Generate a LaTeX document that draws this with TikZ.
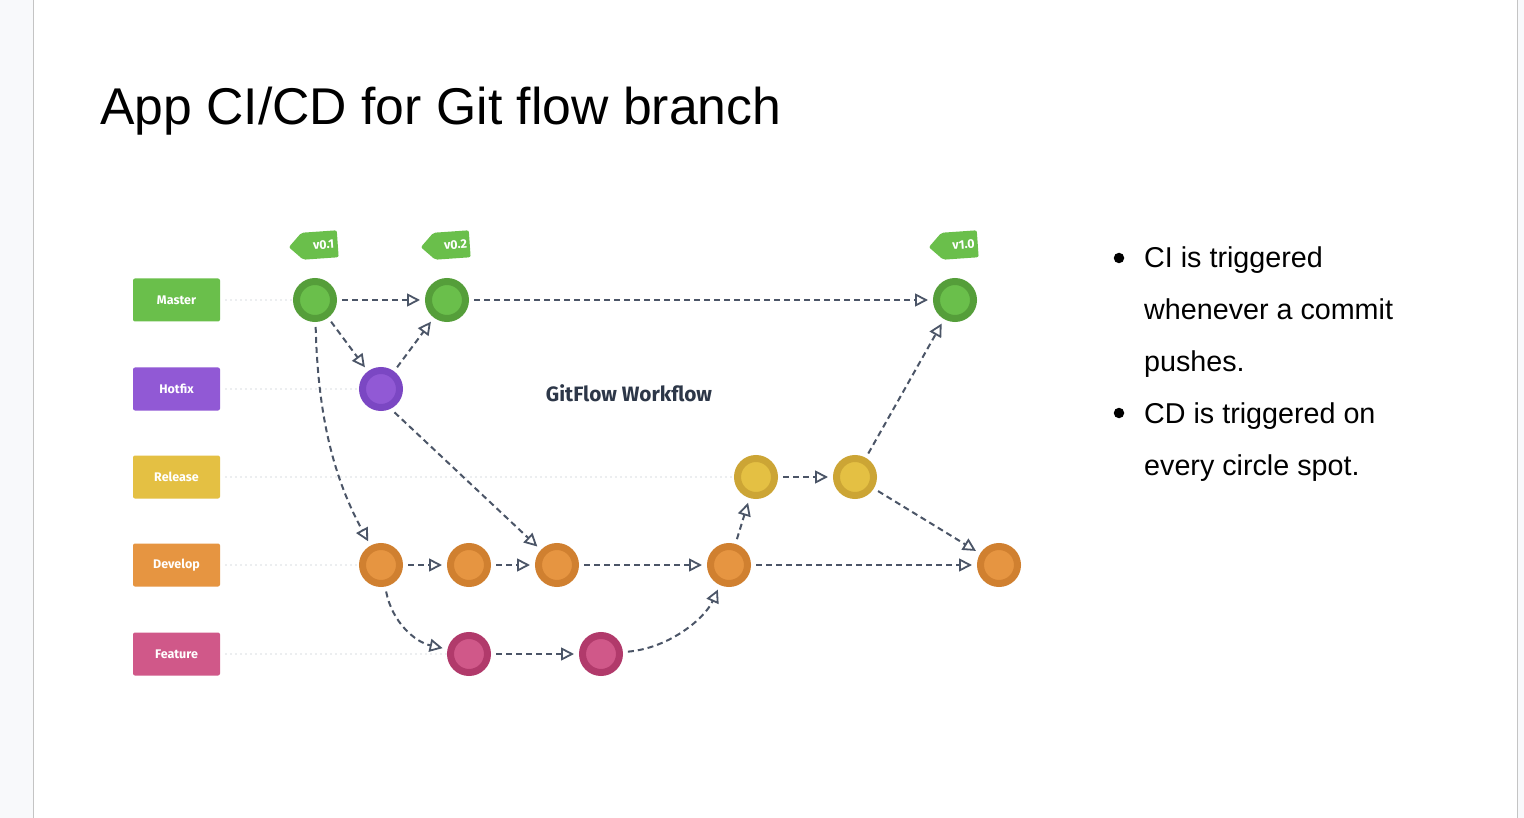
\documentclass[tikz,border=0pt]{standalone}
\usepackage{fontspec}
\setmainfont{Liberation Sans}
\newfontfamily\diagfont{Fira Sans}
\usetikzlibrary{arrows.meta,shapes.symbols}
\definecolor{gO}{HTML}{559E3A}
\definecolor{gI}{HTML}{6ABF4B}
\definecolor{pO}{HTML}{7B47C3}
\definecolor{pI}{HTML}{9159D5}
\definecolor{yO}{HTML}{CCA535}
\definecolor{yI}{HTML}{E4C043}
\definecolor{oO}{HTML}{D08030}
\definecolor{oI}{HTML}{E69541}
\definecolor{kO}{HTML}{B13A6B}
\definecolor{kI}{HTML}{D05889}
\definecolor{arrowC}{HTML}{4B5567}
\definecolor{laneC}{HTML}{ECEEF0}
\definecolor{stripC}{HTML}{F8F9FB}
\definecolor{edgeC}{HTML}{C4C4C4}
\definecolor{headC}{HTML}{2D3748}
\begin{document}
\begin{tikzpicture}[x=1pt,y=-1pt,
  commit/.style={circle, minimum size=37pt, inner sep=0pt, line width=7pt, outer sep=8.5pt},
  gm/.style={commit, draw=gO, fill=gI},
  pm/.style={commit, draw=pO, fill=pI},
  ym/.style={commit, draw=yO, fill=yI},
  om/.style={commit, draw=oO, fill=oI},
  km/.style={commit, draw=kO, fill=kI},
  branchbox/.style={rectangle, rounded corners=2pt, minimum width=87pt, minimum height=43pt, inner sep=0pt, text=white, font=\diagfont\bfseries\fontsize{12.5}{14}\selectfont},
  tagbox/.style={signal, signal to=west, signal pointer angle=90, fill=gI, text=white, font=\diagfont\bfseries\fontsize{12.5}{14}\selectfont, minimum width=49pt, minimum height=27pt, inner sep=0pt, rounded corners=2pt, rotate=4},
  flow/.style={draw=arrowC, line width=2pt, dash pattern=on 6pt off 4pt, -{Triangle[open, length=13pt, width=13pt, line width=1.8pt]}},
  lane/.style={draw=laneC, line width=1.5pt, dash pattern=on 2pt off 3pt, shorten <=5pt, shorten >=-5pt},
  bodytext/.style={anchor=base west, inner sep=0pt, font=\fontsize{28.7}{34}\selectfont},
  bulletdot/.style={circle, fill=black, minimum size=10.5pt, inner sep=0pt},
]
\useasboundingbox (0,0) rectangle (1524,818);
% page background
\fill[white] (0,0) rectangle (1524,818);
\fill[stripC] (0,0) rectangle (33,818);
\fill[stripC] (1518,0) rectangle (1524,818);
\draw[edgeC, line width=1.5pt] (33.5,0) -- (33.5,818);
\draw[edgeC, line width=1.5pt] (1517.5,0) -- (1517.5,818);

% title
\node[anchor=base west, inner sep=0pt, font=\fontsize{51.7}{60}\selectfont] (title) at (100,125) {App CI/CD for Git flow branch};

% branch labels
\node[branchbox, fill=gI] (lm) at (176.5,300) {Master};
\node[branchbox, fill=pI] (lh) at (176.5,389) {Hotfix};
\node[branchbox, fill=yI] (lr) at (176.5,477) {Release};
\node[branchbox, fill=oI] (ld) at (176.5,565) {Develop};
\node[branchbox, fill=kI] (lf) at (176.5,654) {Feature};

% commits
\node[gm] (m1) at (315,300) {};
\node[gm] (m2) at (447,300) {};
\node[gm] (m3) at (955,300) {};
\node[pm] (h1) at (381,389) {};
\node[ym] (r1) at (756,477) {};
\node[ym] (r2) at (855,477) {};
\node[om] (d1) at (381,565) {};
\node[om] (d2) at (469,565) {};
\node[om] (d3) at (557,565) {};
\node[om] (d4) at (729,565) {};
\node[om] (d5) at (999,565) {};
\node[km] (f1) at (469,654) {};
\node[km] (f2) at (601,654) {};

% tags
\node[tagbox] (t1) at (320,245) {\hspace*{7pt}v0.1};
\node[tagbox] (t2) at (452,245) {\hspace*{7pt}v0.2};
\node[tagbox] (t3) at (960,245) {\hspace*{7pt}v1.0};

% lanes
\draw[lane] (lm) -- (m1);
\draw[lane] (lh) -- (h1);
\draw[lane] (lr) -- (r1);
\draw[lane] (ld) -- (d1);
\draw[lane] (lf) -- (f1);

% heading
\node[font=\diagfont\bfseries\fontsize{20.8}{24}\selectfont, text=headC] (wf) at (629,393) {GitFlow Workflow};

% flows
\draw[flow] (m1) -- (m2);
\draw[flow] (m2) -- (m3);
\draw[flow] (m1) -- (h1);
\draw[flow] (h1) -- (m2);
\draw[flow] (m1) .. controls (318,420) and (335,480) .. (d1);
\draw[flow] (h1.-60) -- (d3);
\draw[flow] (d1) -- (d2);
\draw[flow] (d2) -- (d3);
\draw[flow] (d3) -- (d4);
\draw[flow] (d4) -- (d5);
\draw[flow] (d4) -- (r1);
\draw[flow] (r1) -- (r2);
\draw[flow] (r2) -- (m3);
\draw[flow] (r2) -- (d5);
\draw[flow] (d1) .. controls (392,622) and (415,642) .. (f1);
\draw[flow] (f1) -- (f2);
\draw[flow] (f2) .. controls (670,648) and (705,618) .. (d4);

% bullets
\node[bulletdot] (b1) at (1119,258) {};
\node[bodytext] (l1) at (1144,268) {CI is triggered};
\node[bodytext] (l2) at (1144,320) {whenever a commit};
\node[bodytext] (l3) at (1144,372) {pushes.};
\node[bulletdot] (b2) at (1119,413) {};
\node[bodytext] (l4) at (1144,423) {CD is triggered on};
\node[bodytext] (l5) at (1144,475) {every circle spot.};
\end{tikzpicture}
\end{document}
